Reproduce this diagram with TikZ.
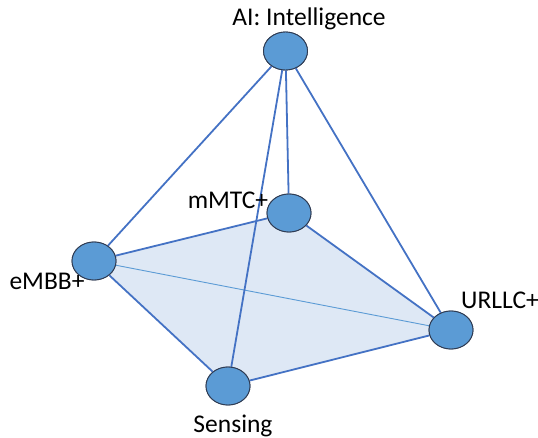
\documentclass[tikz,border=0pt]{standalone}
\usepackage{fontspec}
\setmainfont{Carlito}
\usetikzlibrary{shapes.geometric}
\definecolor{edgeblue}{HTML}{4472C4}
\definecolor{nodeblue}{HTML}{5B9BD5}
\definecolor{nodeline}{HTML}{2F3B52}
\definecolor{facefill}{HTML}{DEE8F5}
\tikzset{
  vertex/.style={ellipse, draw=nodeline, line width=0.9pt, fill=nodeblue,
    minimum width=44pt, minimum height=38pt, inner sep=0pt},
  edge/.style={draw=edgeblue, line width=1.8pt},
  thinedge/.style={draw=nodeblue, line width=0.9pt},
  lbl/.style={font=\fontsize{25.5}{28}\selectfont, text=black, inner sep=0pt}
}
\begin{document}
\begin{tikzpicture}[x=1pt,y=-1pt]
\useasboundingbox (0,0) rectangle (538,438);
% vertices of the tetrahedron
\coordinate (pA) at (285.5,51);
\coordinate (pM) at (289,213);
\coordinate (pE) at (94,261);
\coordinate (pU) at (451,330);
\coordinate (pS) at (228,386);
% shaded base face
\fill[facefill] (pE) -- (pM) -- (pU) -- (pS) -- cycle;
\node[vertex] (ai) at (pA) {};
\node[vertex] (mm) at (pM) {};
\node[vertex] (eb) at (pE) {};
\node[vertex] (ur) at (pU) {};
\node[vertex] (se) at (pS) {};
% edges
\path[thinedge] (eb) -- (ur);
\path[edge] (eb) -- (mm);
\path[edge] (mm) -- (ur);
\path[edge] (ur) -- (se);
\path[edge] (se) -- (eb);
\path[edge] (ai) -- (eb);
\path[edge] (ai) -- (mm);
\path[edge] (ai) -- (ur);
\path[edge] (ai) -- (se);
% labels
\node[lbl] (tai) at (309,19) {AI: Intelligence};
\node[lbl] (tmm) at (228,200) {mMTC+};
\node[lbl] (teb) at (47,281) {eMBB+};
\node[lbl] (tur) at (500,300) {URLLC+};
\node[lbl] (tse) at (233,426) {Sensing};
% vertices redrawn on top of the edges
\node[vertex] at (pA) {};
\node[vertex] at (pM) {};
\node[vertex] at (pE) {};
\node[vertex] at (pU) {};
\node[vertex] at (pS) {};
\end{tikzpicture}
\end{document}
